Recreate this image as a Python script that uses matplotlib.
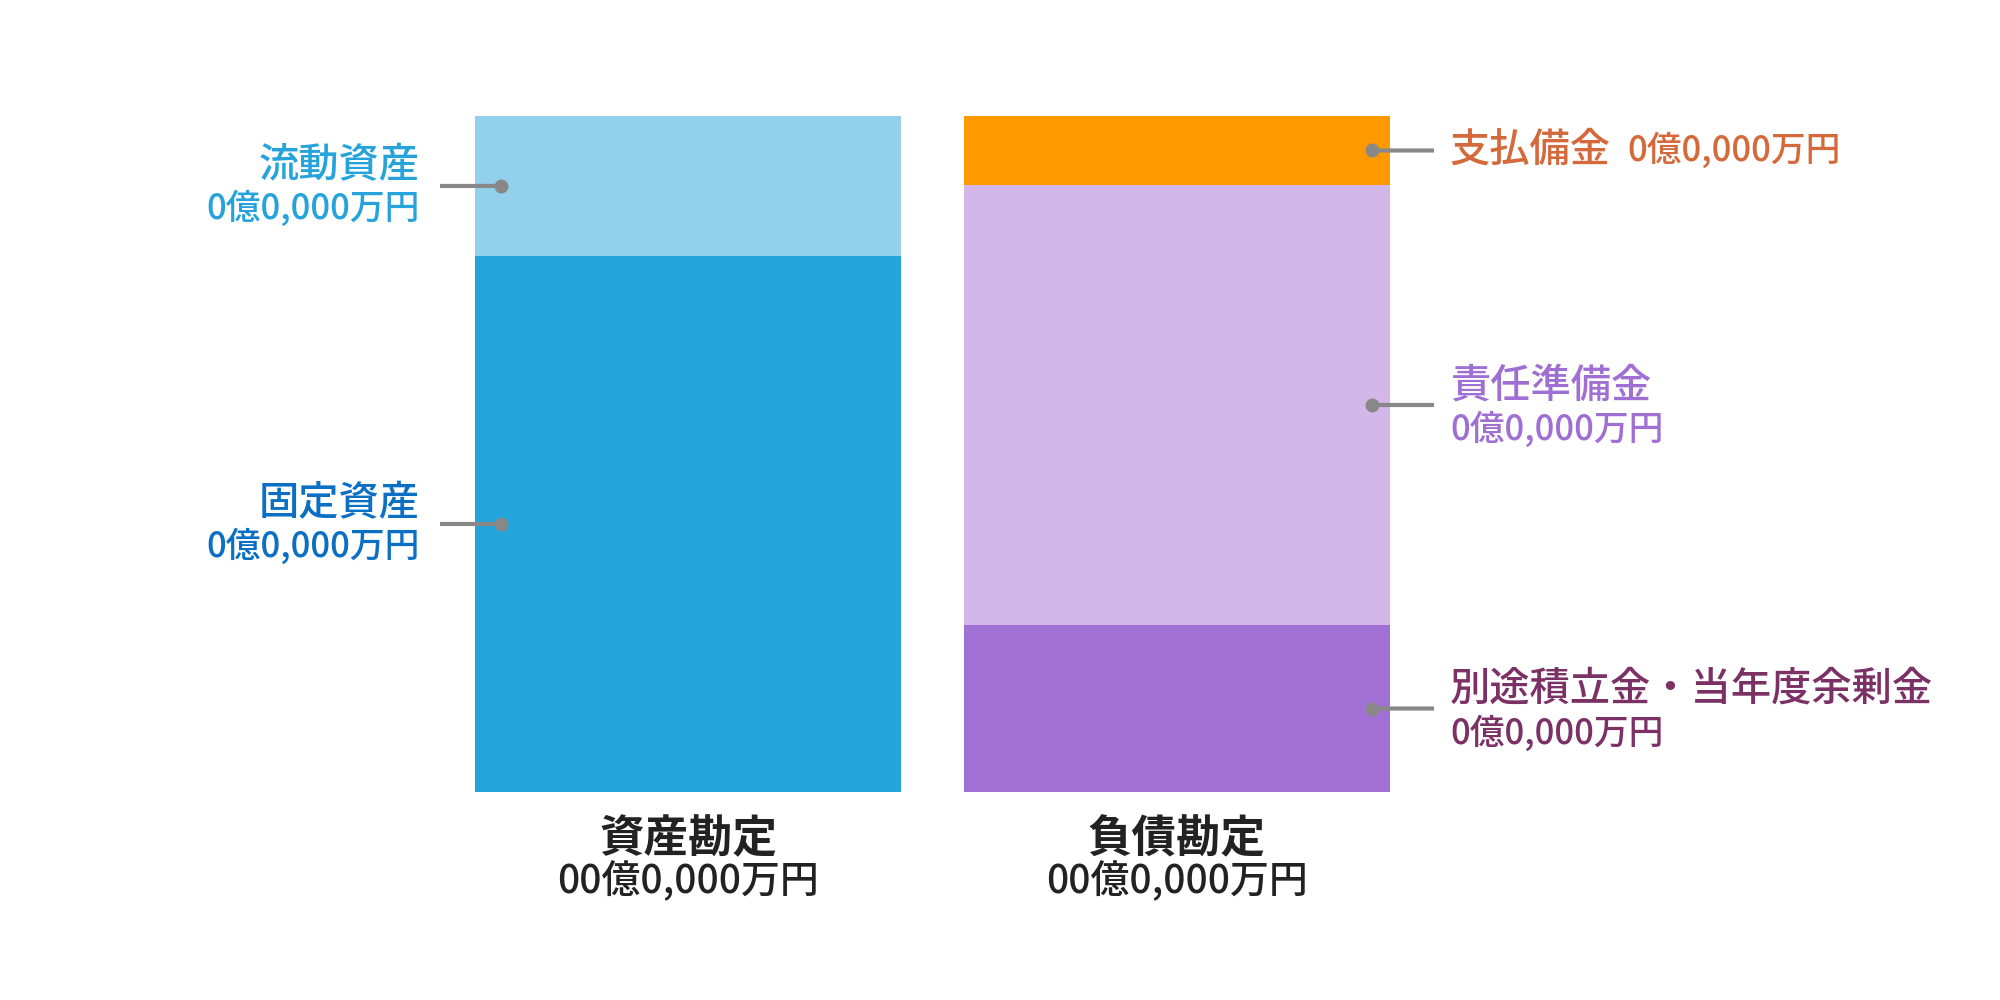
import matplotlib
matplotlib.use("Agg")
import matplotlib.pyplot as plt
from matplotlib.patches import ConnectionPatch
from matplotlib.transforms import ScaledTranslation

plt.rcParams['font.family'] = ['Noto Sans CJK JP', 'DejaVu Sans']

# two stacked bars, values in percent of the total, listed bottom -> top
bar_names = ['資産勘定', '負債勘定']
bar_totals = ['00億0,000万円', '00億0,000万円']

asset_labels = ['固定資産', '流動資産']
asset_values = [79.3, 20.7]
asset_amounts = ['0億0,000万円', '0億0,000万円']
asset_colors = ['#23a4db', '#92d0ec']
asset_text_colors = ['#0b6fc4', '#25a3da']

liab_labels = ['別途積立金・当年度余剰金', '責任準備金', '支払備金']
liab_values = [24.7, 65.1, 10.2]
liab_amounts = ['0億0,000万円', '0億0,000万円', '0億0,000万円']
liab_colors = ['#a070d4', '#d2b7e8', '#ff9900']
liab_text_colors = ['#7b3066', '#a06fd3', '#d4693b']

fig = plt.figure(figsize=(20, 10), dpi=100)
W = 0.873
ax = fig.add_axes([0.2375, 0.208, 0.4575, 0.676])
ax.set_xlim(-W / 2, 1 + W / 2)
ax.set_ylim(0, 100)
ax.axis('off')


def off(dx_px, dy_px):
    # data coordinates shifted by a few figure pixels (dpi 100)
    return ax.transData + ScaledTranslation(dx_px / 100, dy_px / 100, fig.dpi_scale_trans)


def connector(x, y, dot_dx, end_dx):
    con = ConnectionPatch(xyA=(x, y), coordsA=off(end_dx, 0),
                          xyB=(x, y), coordsB=off(dot_dx, 0),
                          color='#888888', lw=3, capstyle='butt')
    fig.add_artist(con)
    ax.plot([x], [y], 'o', color='#888888', ms=9, transform=off(dot_dx, 0),
            clip_on=False, zorder=5)


TITLE = 29
VALUE = 25

# assets (left bar)
bottom = 0
for lab, val, amt, col, tcol in zip(asset_labels, asset_values, asset_amounts,
                                    asset_colors, asset_text_colors):
    ax.bar(0, val, width=W, bottom=bottom, color=col, linewidth=0)
    ymid = bottom + val / 2
    xe = -W / 2
    connector(xe, ymid, 26, -35)
    ax.text(xe, ymid, lab, transform=off(-55, 20), ha='right', va='center',
            color=tcol, fontsize=TITLE, fontweight='medium')
    ax.text(xe, ymid, amt, transform=off(-55, -23), ha='right', va='center',
            color=tcol, fontsize=VALUE, fontweight='medium')
    bottom += val

# liabilities (right bar)
bottom = 0
for i, (lab, val, amt, col, tcol) in enumerate(zip(liab_labels, liab_values, liab_amounts,
                                                   liab_colors, liab_text_colors)):
    ax.bar(1, val, width=W, bottom=bottom, color=col, linewidth=0)
    ymid = bottom + val / 2
    xe = 1 + W / 2
    connector(xe, ymid, -18, 44)
    if i == len(liab_labels) - 1:
        # top segment: name and amount on one line
        t = ax.text(xe, ymid, lab, transform=off(60, 0), ha='left', va='center',
                    color=tcol, fontsize=TITLE, fontweight='medium')
        ax.annotate(amt, xy=(1, 0.5), xycoords=t, xytext=(12, 0),
                    textcoords='offset points', ha='left', va='center',
                    color=tcol, fontsize=VALUE, fontweight='medium')
    else:
        ax.text(xe, ymid, lab, transform=off(60, 19), ha='left', va='center',
                color=tcol, fontsize=TITLE, fontweight='medium')
        ax.text(xe, ymid, amt, transform=off(60, -25), ha='left', va='center',
                color=tcol, fontsize=VALUE, fontweight='medium')
    bottom += val

# category labels below the bars
for x, name, total in zip([0, 1], bar_names, bar_totals):
    ax.text(x, 0, name, transform=off(0, -47), ha='center', va='center',
            color='#222222', fontsize=32, fontweight='bold')
    ax.text(x, 0, total, transform=off(0, -90), ha='center', va='center',
            color='#222222', fontsize=28, fontweight='medium')

fig.savefig('out.png', dpi=100)
